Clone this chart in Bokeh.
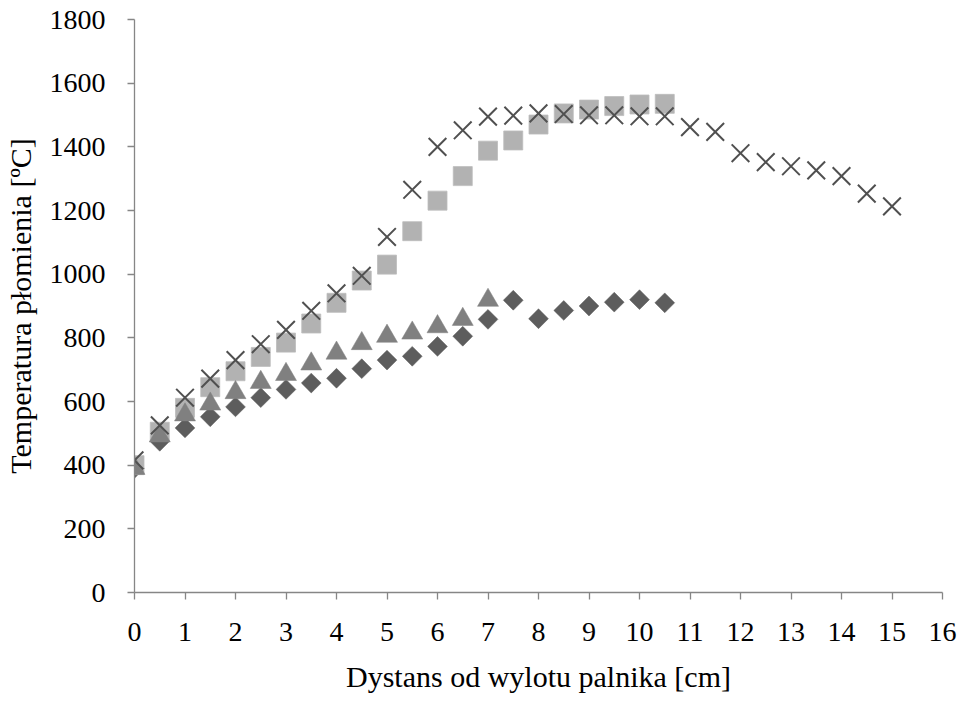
import numpy as np
from bokeh.plotting import figure
from bokeh.models import Range1d, FixedTicker
from bokeh.embed import file_html
from bokeh.resources import INLINE

# --- data ---
dist_long = [0, 0.5, 1, 1.5, 2, 2.5, 3, 3.5, 4, 4.5, 5, 5.5, 6, 6.5, 7, 7.5,
             8, 8.5, 9, 9.5, 10, 10.5, 11, 11.5, 12, 12.5, 13, 13.5, 14, 14.5, 15]
temp_cross = [415, 525, 612, 672, 730, 780, 825, 885, 940, 995, 1117, 1265, 1400,
              1452, 1495, 1498, 1505, 1503, 1499, 1499, 1496, 1496, 1462, 1447,
              1380, 1352, 1339, 1326, 1308, 1253, 1213]

dist_mid = [0, 0.5, 1, 1.5, 2, 2.5, 3, 3.5, 4, 4.5, 5, 5.5, 6, 6.5, 7, 7.5,
            8, 8.5, 9, 9.5, 10, 10.5]
temp_square = [400, 505, 580, 645, 695, 740, 785, 845, 910, 980, 1030, 1135, 1231,
               1308, 1388, 1420, 1470, 1505, 1517, 1528, 1533, 1535]
temp_diamond = [390, 475, 517, 552, 583, 612, 638, 658, 673, 703, 730, 742, 773,
                805, 858, 918, 860, 886, 900, 912, 920, 910]

dist_short = [0, 0.5, 1, 1.5, 2, 2.5, 3, 3.5, 4, 4.5, 5, 5.5, 6, 6.5, 7]
temp_triangle = [390, 492, 558, 592, 628, 660, 685, 718, 752, 782, 805, 815, 835,
                 858, 918]

x_ticks = list(range(0, 17))
y_ticks = list(range(0, 1801, 200))

FONT = "Liberation Serif"

p = figure(width=958, height=700, output_backend="svg", toolbar_location=None,
           x_range=Range1d(0, 16), y_range=Range1d(0, 1800),
           min_border_left=134, min_border_right=16, min_border_top=19,
           min_border_bottom=108)
p.outline_line_color = None
p.xgrid.grid_line_color = None
p.ygrid.grid_line_color = None
p.background_fill_color = "white"
p.border_fill_color = "white"

p.scatter(dist_mid, temp_diamond, marker="square", angle=np.pi / 4, size=14,
          fill_color="#5d5d5d", line_color="#5d5d5d", line_width=0.5)
p.scatter(dist_mid, temp_square, marker="square", size=19,
          fill_color="#b2b2b2", line_color="#bcbcbc", line_width=0.8)
p.scatter(dist_short, temp_triangle, marker="triangle", size=21,
          fill_color="#808080", line_color="#808080", line_width=0.5)
p.scatter(dist_long, temp_cross, marker="x", size=25,
          line_color="#505050", line_width=2)

for ax in (p.xaxis[0], p.yaxis[0]):
    ax.axis_line_color = "#868686"
    ax.axis_line_width = 1.3
    ax.major_tick_line_color = "#868686"
    ax.major_tick_line_width = 1.3
    ax.major_tick_in = 0
    ax.major_tick_out = 7
    ax.minor_tick_line_color = None
    ax.major_label_text_font = FONT
    ax.major_label_text_font_size = "28px"
    ax.major_label_text_color = "black"
    ax.axis_label_text_font = FONT
    ax.axis_label_text_font_size = "30px"
    ax.axis_label_text_font_style = "normal"
    ax.axis_label_text_color = "black"

p.xaxis.ticker = FixedTicker(ticks=x_ticks)
p.yaxis.ticker = FixedTicker(ticks=y_ticks)
p.xaxis.axis_label = "Dystans od wylotu palnika [cm]"
p.yaxis.axis_label = "Temperatura płomienia [ºC]"
p.xaxis.major_label_standoff = 23
p.xaxis.axis_label_standoff = 16
p.yaxis.major_label_standoff = 22
p.yaxis.axis_label_standoff = 10

open("out.html", "w").write(file_html(p, INLINE))
